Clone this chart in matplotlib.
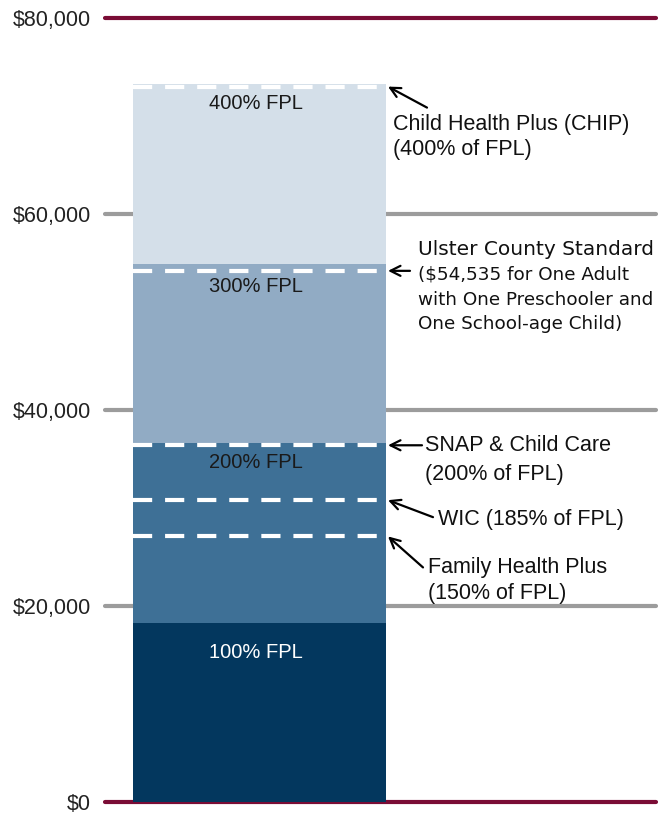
import matplotlib
matplotlib.use("Agg")
import matplotlib.pyplot as plt

# federal poverty level bands (stacked segments of the single bar)
fpl_labels = ["100% FPL", "200% FPL", "300% FPL", "400% FPL"]
fpl_tops = [18310, 36620, 54930, 73240]
fpl_colors = ["#03375E", "#3E7096", "#91ABC4", "#D4DFE9"]
fpl_text_colors = ["white", "#1a1a1a", "#1a1a1a", "#1a1a1a"]

# eligibility thresholds drawn as dashed lines
thresholds = [73000, 54200, 36400, 30800, 27100]
threshold_lines = [
    ["Child Health Plus (CHIP)", "(400% of FPL)"],
    ["Ulster County Standard", "($54,535 for One Adult",
     "with One Preschooler and", "One School-age Child)"],
    ["SNAP & Child Care", "(200% of FPL)"],
    ["WIC (185% of FPL)"],
    ["Family Health Plus", "(150% of FPL)"],
]

yticks = [0, 20000, 40000, 60000, 80000]
ytick_labels = ["$0", "$20,000", "$40,000", "$60,000", "$80,000"]

W, H = 671, 815
fig = plt.figure(figsize=(W / 100, H / 100), dpi=100)
ax = fig.add_axes([105 / W, 13 / H, 551 / W, 784 / H])
ax.set_xlim(0, 551)
ax.set_ylim(0, 80000)
for s in ax.spines.values():
    s.set_visible(False)
ax.set_xticks([])
ax.set_yticks(yticks)
ax.set_yticklabels(ytick_labels, family="Liberation Sans", fontsize=15.5, color="#222222")
ax.tick_params(axis="y", length=0, pad=10)

for v in yticks:
    edge = v in (0, 80000)
    ax.axhline(v, color="#7A0C35" if edge else "#9C9C9C", lw=3, zorder=1,
               clip_on=False, solid_capstyle="round")

bar_left, bar_w = 28, 253
bottom = 0
label_drop = [30, 19, 23, 19]
for top, lab, c, tc, drop in zip(fpl_tops, fpl_labels, fpl_colors, fpl_text_colors, label_drop):
    ax.bar(bar_left, top - bottom, bottom=bottom, width=bar_w, align="edge",
           color=c, zorder=2)
    ax.annotate(lab, xy=(bar_left + bar_w / 2 - 4, top), xycoords="data",
                xytext=(0, -drop), textcoords="offset pixels", ha="center",
                va="center", family="Liberation Sans", fontsize=14.5, color=tc, zorder=4)
    bottom = top

for v in thresholds:
    ax.plot([bar_left, bar_left + bar_w], [v, v], color="white", lw=3,
            dashes=(4.6, 3.1), zorder=3, solid_capstyle="butt")

# arrows + callout text (offsets in pixels relative to the arrow head)
head_x = bar_left + bar_w + 2
arrow_tails = [(39, -21), (22, 0), (34, 0), (45, -17), (35, -31)]
text_x = [5, 30, 37, 50, 40]
text_dy = [[-38, -63], [21, -4, -29, -53], [0, -29], [-19], [-31, -57]]
for v, lines, tail, tx, dys in zip(thresholds, threshold_lines, arrow_tails, text_x, text_dy):
    ax.annotate("", xy=(head_x, v), xycoords="data", xytext=tail,
                textcoords="offset pixels",
                arrowprops=dict(arrowstyle="->", lw=1.6, color="black",
                                mutation_scale=18, shrinkA=0, shrinkB=0))
    ulster = lines[0].startswith("Ulster")
    for i, (line, dy) in enumerate(zip(lines, dys)):
        if ulster:
            fam, fs = "DejaVu Sans", (14.5 if i == 0 else 13.2)
        else:
            fam, fs = "Liberation Sans", 15.5
        ax.annotate(line, xy=(head_x, v), xycoords="data", xytext=(tx, dy),
                    textcoords="offset pixels", ha="left", va="center",
                    family=fam, fontsize=fs, color="#111111")

fig.savefig("out.png", dpi=100)
